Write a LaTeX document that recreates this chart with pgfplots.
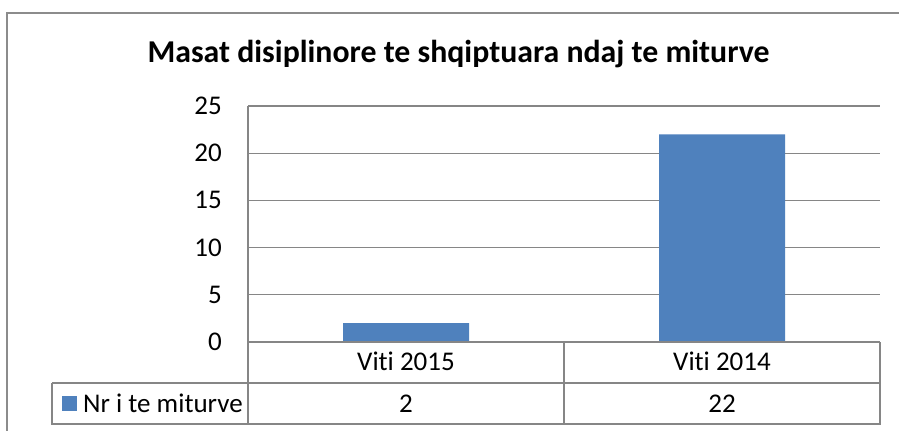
\documentclass[border=0pt]{standalone}
\usepackage{pgfplots}
\pgfplotsset{compat=1.18}
\usepackage{fontspec}
\setmainfont[Ligatures=NoCommon]{Carlito}
\definecolor{barblue}{HTML}{4F81BD}
\definecolor{gridgray}{HTML}{868686}
\definecolor{framegray}{HTML}{8C8C8C}
\begin{document}
\begin{tikzpicture}
\useasboundingbox (0,0) rectangle (899bp,431bp);
\fill[white] (0,0) rectangle (899bp,431bp);
% outer chart frame
\draw[framegray, line width=1.6bp] (7bp,-2bp) -- (7bp,418bp) -- (901bp,418bp);
\begin{axis}[
  at={(248bp,89bp)}, anchor=south west,
  scale only axis, width=632bp, height=236bp,
  xmin=-0.5, xmax=1.5, ymin=0, ymax=25,
  ytick={0,5,10,15,20,25},
  xtick=\empty,
  axis line style={draw=none},
  ymajorgrids, grid style={gridgray, line width=1.3bp},
  major tick length=0pt,
  yticklabel style={font=\fontsize{27bp}{32bp}\selectfont, anchor=east, inner sep=0pt, xshift=-26bp},
  /pgf/number format/assume math mode=true,
  clip=false,
]
\addplot[ybar, bar width=126bp, fill=barblue, draw=none] coordinates {(0,2) (1,22)};
\draw[gridgray, line width=1.3bp] (axis cs:-0.5,0) -- (axis cs:-0.5,25);
\end{axis}
% data table
\begin{scope}[gridgray, line width=1.3bp]
\draw (248bp,89bp) -- (880bp,89bp);
\draw (248bp,48bp) -- (880bp,48bp);
\draw (52bp,48bp) -- (52bp,7bp) -- (880bp,7bp) -- (880bp,89bp);
\draw (52bp,48bp) -- (248bp,48bp);
\draw (248bp,89bp) -- (248bp,7bp);
\draw (564bp,89bp) -- (564bp,7bp);
\end{scope}
\fill[barblue] (62bp,20bp) rectangle (77bp,35bp);
\begin{scope}[every node/.style={font=\fontsize{27bp}{32bp}\selectfont, inner sep=0pt}]
\node[anchor=base] at (406bp,60bp) {Viti 2015};
\node[anchor=base] at (722bp,60bp) {Viti 2014};
\node[anchor=base] at (406bp,19bp) {2};
\node[anchor=base] at (722bp,19bp) {22};
\node[anchor=base west] at (83bp,19bp) {Nr i te miturve};
\end{scope}
\node[anchor=base, inner sep=0pt, font=\fontsize{31.8bp}{36bp}\selectfont\bfseries] at (458.5bp,368bp) {Masat disiplinore te shqiptuara ndaj te miturve};
\end{tikzpicture}
\end{document}
